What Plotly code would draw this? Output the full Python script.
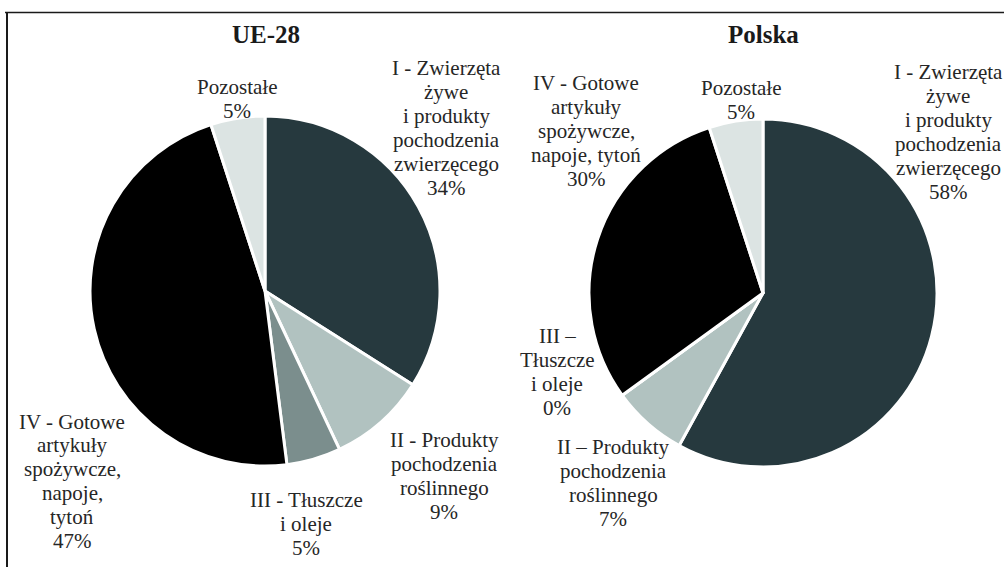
import plotly.graph_objects as go

W, H = 1004, 567

categories = ["I", "II", "III", "IV", "Pozostałe"]
ue_values = [34, 9, 5, 47, 5]
pl_values = [58, 7, 0, 30, 5]
colors = ["#26393E", "#B1C2C0", "#7B8E8D", "#000000", "#DCE4E3"]

ue_labels = [
    "I - Zwierzęta|żywe|i produkty|pochodzenia|zwierzęcego",
    "II - Produkty|pochodzenia|roślinnego",
    "III - Tłuszcze|i oleje",
    "IV - Gotowe|artykuły|spożywcze,|napoje,|tytoń",
    "Pozostałe",
]
pl_labels = [
    "I - Zwierzęta|żywe|i produkty|pochodzenia|zwierzęcego",
    "II – Produkty|pochodzenia|roślinnego",
    "III –|Tłuszcze|i oleje",
    "IV - Gotowe|artykuły|spożywcze,|napoje, tytoń",
    "Pozostałe",
]

# label block centre positions in pixels (layout only)
ue_label_pos = [(446, 128), (444, 476), (306, 524), (72, 481), (237, 99)]
pl_label_pos = [(948, 132), (613, 483), (557, 372), (586, 131), (741, 100)]

FONT = "Liberation Serif, Times New Roman, serif"
FS = 21
PITCH = 23.8

def px_domain(cx, cy, r):
    return dict(x=[(cx - r) / W, (cx + r) / W], y=[1 - (cy + r) / H, 1 - (cy - r) / H])

fig = go.Figure()
fig.add_trace(go.Pie(
    labels=categories, values=ue_values, sort=False, direction="clockwise", rotation=0,
    marker=dict(colors=colors, line=dict(color="white", width=3)),
    textinfo="none", hoverinfo="label+percent", domain=px_domain(265, 291, 175),
    showlegend=False,
))
fig.add_trace(go.Pie(
    labels=categories, values=pl_values, sort=False, direction="clockwise", rotation=0,
    marker=dict(colors=colors, line=dict(color="white", width=3)),
    textinfo="none", hoverinfo="label+percent", domain=px_domain(763, 293, 174),
    showlegend=False,
))

annotations = []

def add_block(lines, cx, cy):
    n = len(lines)
    for i, line in enumerate(lines):
        y = cy + (i - (n - 1) / 2) * PITCH
        annotations.append(dict(text=line, x=cx / W, y=1 - y / H, xref="paper", yref="paper",
                                xanchor="center", yanchor="middle", showarrow=False,
                                font=dict(family=FONT, size=FS, color="#262626")))

for lab, v, (x, y) in zip(ue_labels, ue_values, ue_label_pos):
    add_block(lab.split("|") + [f"{v}%"], x, y)
for lab, v, (x, y) in zip(pl_labels, pl_values, pl_label_pos):
    add_block(lab.split("|") + [f"{v}%"], x, y)

for t, x in [("UE-28", 266), ("Polska", 763)]:
    annotations.append(dict(text=f"<b>{t}</b>", x=x / W, y=1 - 34 / H, xref="paper", yref="paper",
                            xanchor="center", yanchor="middle", showarrow=False,
                            font=dict(family=FONT, size=25, color="#1a1a1a")))

shapes = [
    dict(type="line", xref="paper", yref="paper", x0=5 / W, x1=1, y0=1 - 12.5 / H, y1=1 - 12.5 / H,
         line=dict(color="#1a1a1a", width=1.5)),
    dict(type="line", xref="paper", yref="paper", x0=7 / W, x1=7 / W, y0=0, y1=1 - 12 / H,
         line=dict(color="#1a1a1a", width=2)),
]

fig.update_layout(
    width=W, height=H, margin=dict(l=0, r=0, t=0, b=0),
    paper_bgcolor="white", plot_bgcolor="white",
    annotations=annotations, shapes=shapes,
)
fig.write_html("out.html", config={"displayModeBar": False},
               post_script="document.body.style.margin='0';")
